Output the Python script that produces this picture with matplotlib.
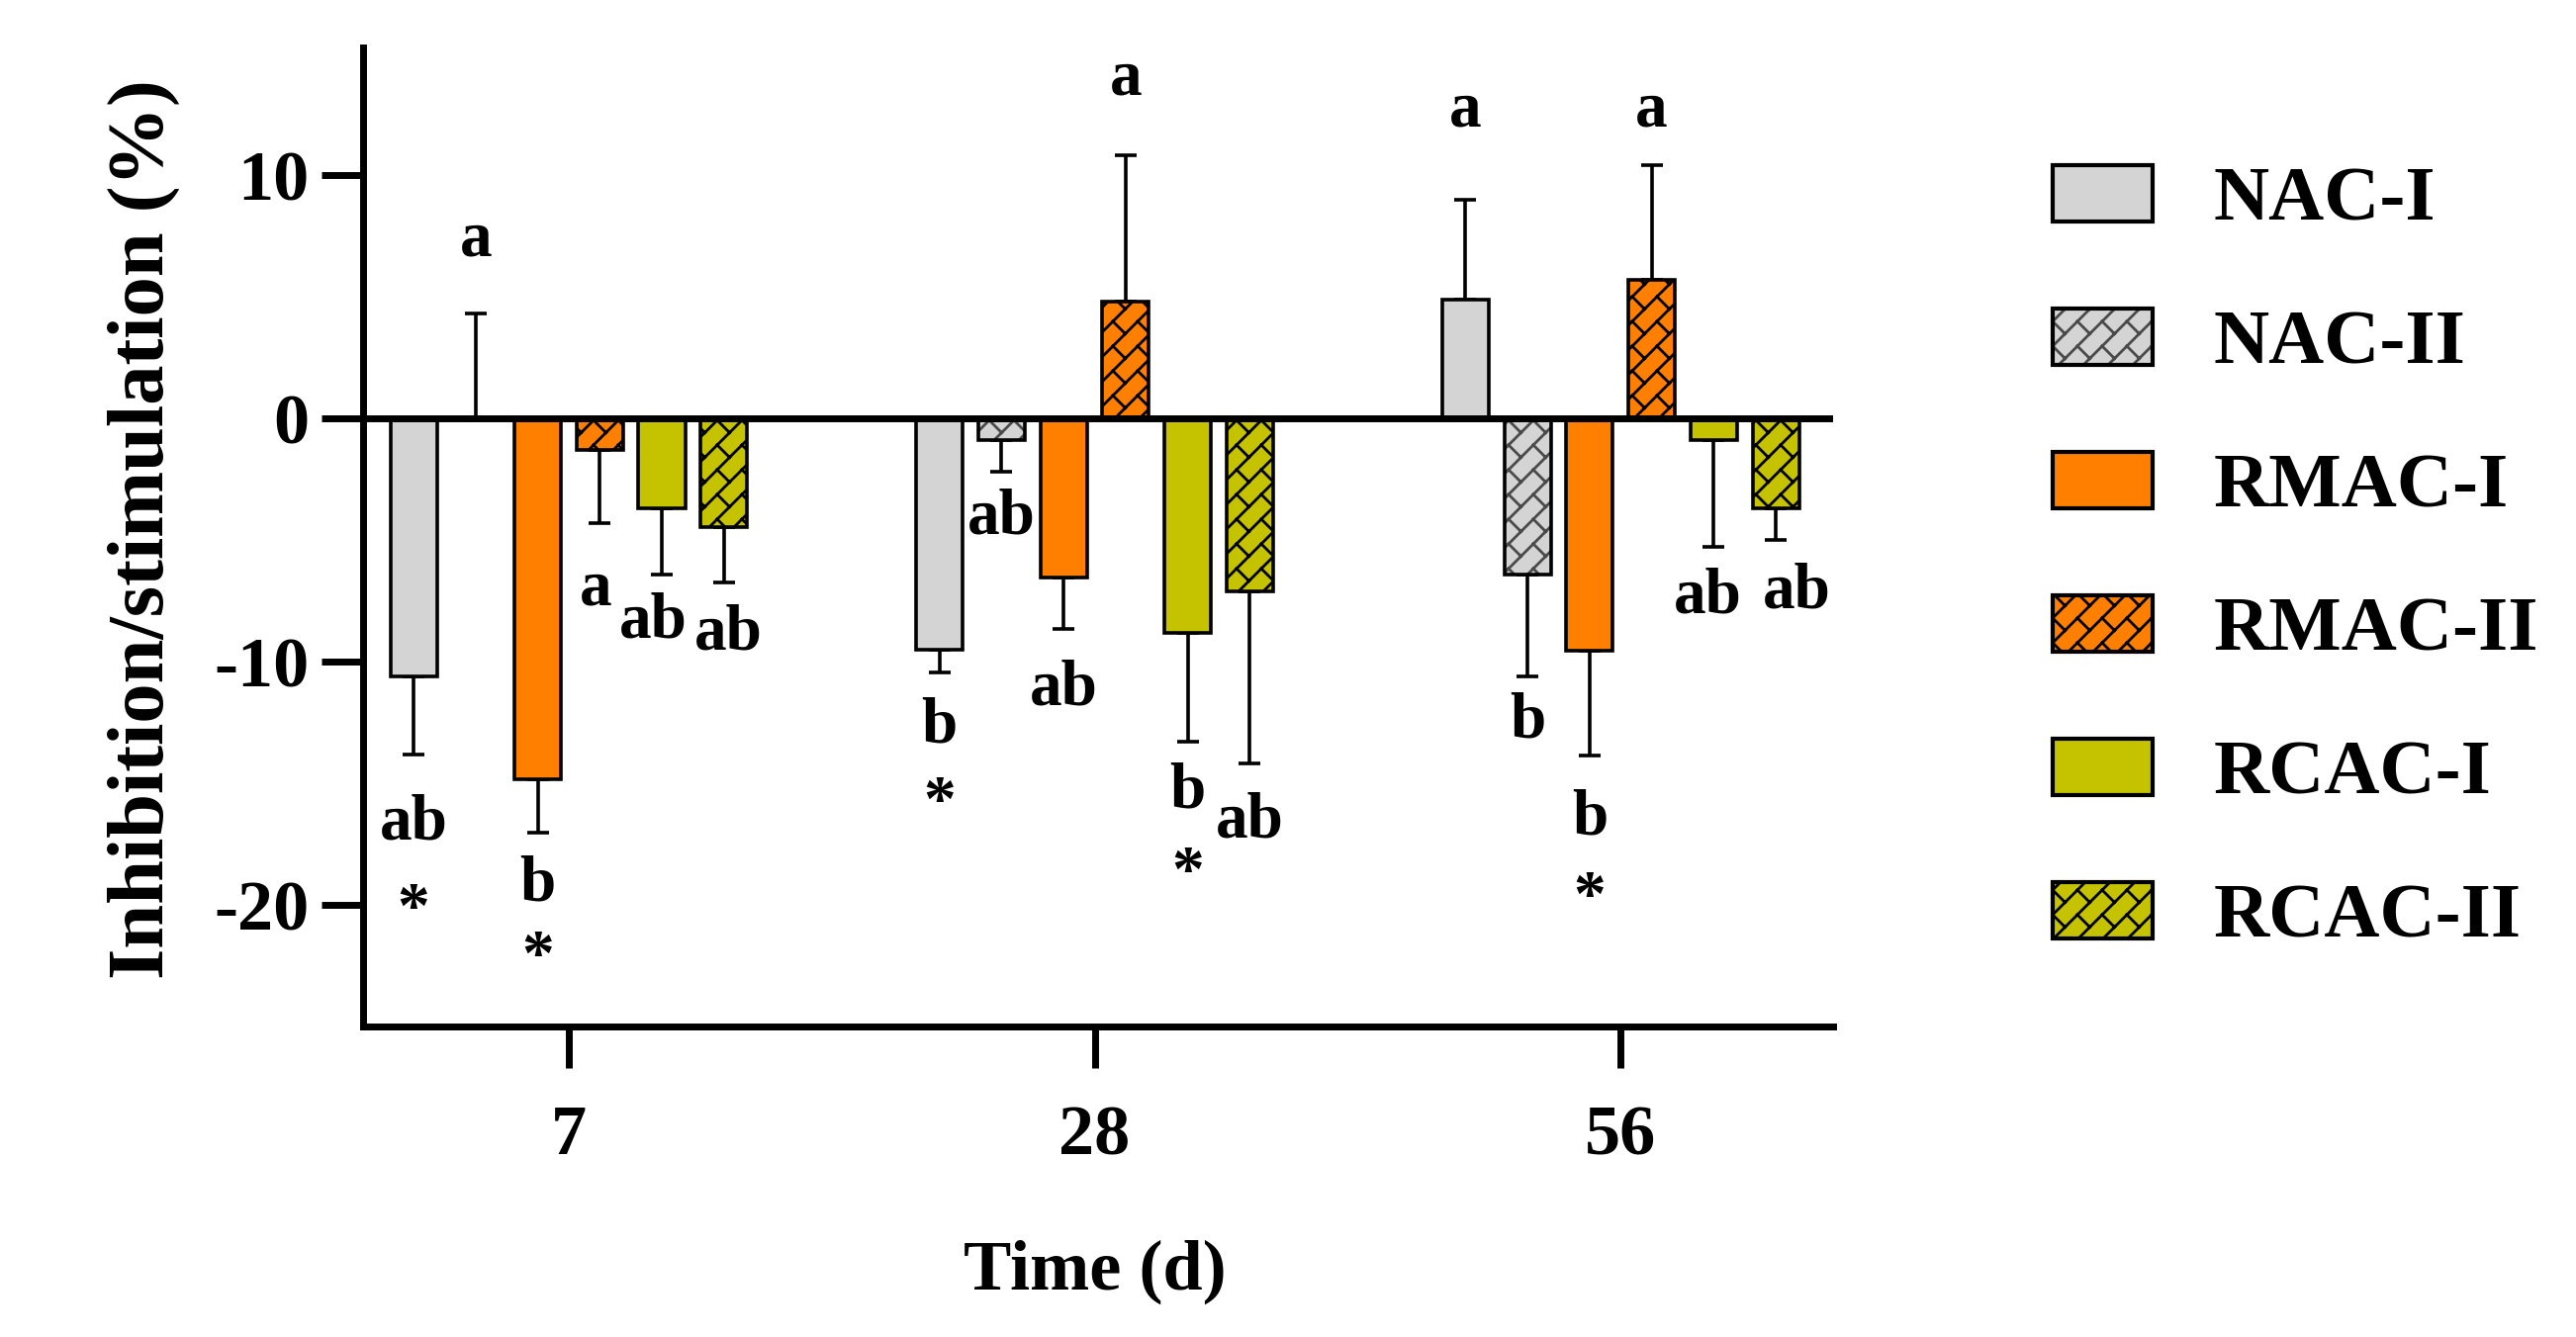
import numpy as np
import matplotlib
matplotlib.use('Agg')
import matplotlib.pyplot as plt
import matplotlib.hatch as mhatch
from matplotlib.path import Path
from matplotlib.patches import Patch

# ---------------- data ----------------
days = ['7', '28', '56']
series = ['NAC-I', 'NAC-II', 'RMAC-I', 'RMAC-II', 'RCAC-I', 'RCAC-II']

nac_i = [-10.6, -9.5, 4.9]
nac_i_err = [3.2, 0.95, 4.1]
nac_ii = [0.0, -0.9, -6.4]
nac_ii_err = [4.3, 1.3, 4.2]
rmac_i = [-14.85, -6.55, -9.55]
rmac_i_err = [2.2, 2.1, 4.3]
rmac_ii = [-1.3, 4.8, 5.7]
rmac_ii_err = [3.0, 6.0, 4.7]
rcac_i = [-3.7, -8.8, -0.9]
rcac_i_err = [2.7, 4.5, 4.4]
rcac_ii = [-4.45, -7.1, -3.7]
rcac_ii_err = [2.3, 7.1, 1.3]

values = [nac_i, nac_ii, rmac_i, rmac_ii, rcac_i, rcac_ii]
errors = [nac_i_err, nac_ii_err, rmac_i_err, rmac_ii_err, rcac_i_err, rcac_ii_err]

# significance letters (per series, per day)
letters_nac_i = ['ab', 'b', 'a']
letters_nac_ii = ['a', 'ab', 'b']
letters_rmac_i = ['b', 'ab', 'b']
letters_rmac_ii = ['a', 'a', 'a']
letters_rcac_i = ['ab', 'b', 'ab']
letters_rcac_ii = ['ab', 'ab', 'ab']
letters = [letters_nac_i, letters_nac_ii, letters_rmac_i,
           letters_rmac_ii, letters_rcac_i, letters_rcac_ii]
# asterisk flags (per series, per day)
stars_nac_i = [True, True, False]
stars_nac_ii = [False, False, False]
stars_rmac_i = [True, False, True]
stars_rmac_ii = [False, False, False]
stars_rcac_i = [False, True, False]
stars_rcac_ii = [False, False, False]
stars = [stars_nac_i, stars_nac_ii, stars_rmac_i,
         stars_rmac_ii, stars_rcac_i, stars_rcac_ii]

y_ticks = [-20, -10, 0, 10]
y_tick_labels = ['-20', '-10', '0', '10']

# ---------------- layout (text baselines in data units, x nudges) ----------------
letter_base = [[-17.3, -13.3, 12.0],
               [6.7, -4.75, -13.1],
               [-19.8, -11.77, -17.1],
               [-7.65, 13.3, 12.0],
               [-9.0, -16.0, -8.0],
               [-9.5, -17.2, -7.8]]
letter_dx = [[0, 0, 0],
             [0, 0, 0],
             [0, 0, 0],
             [-0.008, 0, 0],
             [-0.017, 0, -0.012],
             [0.009, 0, 0.04]]
star_base = [[-20.9, -16.5, None],
             [None, None, None],
             [-22.85, None, -20.4],
             [None, None, None],
             [None, -19.4, None],
             [None, None, None]]

# ---------------- styles ----------------
face_colors = ['#d4d4d4', '#d4d4d4', '#ff8000', '#ff8000', '#c5c300', '#c5c300']
hatch_colors = ['black', '#4a4a4a', 'black', 'black', 'black', 'black']
hatches = [None, 'B', None, 'B', None, 'B']

# --------- custom "brick" hatch (diagonal bricks) ---------
N_LANES = 4
BRICK_L = 0.5


def brick_segments():
    segs = []
    n = N_LANES
    for k in range(-n - 1, n + 2):
        c = k / n
        segs.append((((-1 + c) / 2, (-1 - c) / 2), ((3 + c) / 2, (3 - c) / 2)))
    for k in range(-n - 1, n + 1):
        c1, c2 = k / n, (k + 1) / n
        off = (k % 2) * BRICK_L / 2
        m0 = int(np.floor((-0.5 - off) / BRICK_L))
        m1 = int(np.ceil((2.5 - off) / BRICK_L))
        for m in range(m0, m1 + 1):
            u = off + m * BRICK_L
            segs.append((((u + c1) / 2, (u - c1) / 2), ((u + c2) / 2, (u - c2) / 2)))
    return segs


class BrickHatch(mhatch.HatchPatternBase):
    def __init__(self, hatch, density):
        if 'B' in hatch:
            self.segs = np.asarray(brick_segments(), dtype=float)
            self.num_vertices = len(self.segs) * 2
        else:
            self.segs = None
            self.num_vertices = 0

    def set_vertices_and_codes(self, vertices, codes):
        vertices[0::2] = self.segs[:, 0]
        vertices[1::2] = self.segs[:, 1]
        codes[0::2] = Path.MOVETO
        codes[1::2] = Path.LINETO


mhatch._hatch_types.append(BrickHatch)
mhatch._validate_hatch_pattern = lambda h: None

plt.rcParams['font.family'] = ['Liberation Serif', 'DejaVu Serif']
plt.rcParams['font.weight'] = 'bold'
plt.rcParams['hatch.linewidth'] = 2.0

W, H = 2604, 1352
fig = plt.figure(figsize=(W / 100, H / 100), dpi=100)
ax = fig.add_axes([367 / W, 1 - 1038 / H, (1853 - 367) / W, (1038 - 48) / H])

x = np.arange(len(days))
bar_step = 0.118
bar_w = 0.0885

handles = []
for i in range(len(series)):
    pos = x + (i - 2.5) * bar_step
    vals = values[i]
    errs = errors[i]
    ax.bar(pos, vals, width=bar_w, color=face_colors[i], edgecolor=hatch_colors[i],
           hatch=hatches[i], linewidth=0, zorder=2)
    ax.bar(pos, vals, width=bar_w, fill=False, edgecolor='black', linewidth=2.6, zorder=3)
    lo = [e if v < 0 else 0 for v, e in zip(vals, errs)]
    hi = [e if v >= 0 else 0 for v, e in zip(vals, errs)]
    ax.errorbar(pos, vals, yerr=[lo, hi], fmt='none', ecolor='black', elinewidth=2.6,
                capsize=8, capthick=2.6, zorder=1.5)
    for j in range(len(days)):
        ax.text(pos[j] + letter_dx[i][j], letter_base[i][j], letters[i][j],
                ha='center', va='baseline', fontsize=47, fontweight='bold', zorder=6)
        if stars[i][j]:
            ax.text(pos[j], star_base[i][j], '*', ha='center', va='baseline',
                    fontsize=47, fontweight='bold', zorder=6)
    h1 = Patch(facecolor=face_colors[i], edgecolor=hatch_colors[i], hatch=hatches[i], linewidth=0)
    h2 = Patch(fill=False, edgecolor='black', linewidth=3)
    handles.append((h1, h2))

ax.axhline(0, color='black', lw=5, zorder=4)

ax.set_xlim(-0.391, 2.404)
ax.set_ylim(-25, 15.25)
ax.set_xticks(x)
ax.set_xticklabels(days)
ax.set_yticks(y_ticks)
ax.set_yticklabels(y_tick_labels)

for s in ['top', 'right']:
    ax.spines[s].set_visible(False)
for s in ['left', 'bottom']:
    ax.spines[s].set_linewidth(5)
ax.tick_params(axis='both', direction='out', length=30, width=5, labelsize=52)
ax.tick_params(axis='y', pad=9)
ax.tick_params(axis='x', pad=27)

fig.text(145 / W, 1 - 535 / H, 'Inhibition/stimulation (%)', rotation=90,
         ha='center', va='center', fontsize=58, fontweight='bold')
fig.text(1107 / W, 1 - 1286 / H, 'Time (d)', ha='center', va='center',
         fontsize=52, fontweight='bold')

fig.legend(handles, series, loc='upper left', bbox_to_anchor=(2075 / W, 1 - 167 / H),
           frameon=False, prop={'size': 56, 'weight': 'bold'}, handlelength=1.30,
           handleheight=0.75, handletextpad=0.79, labelspacing=0.93, borderpad=0,
           borderaxespad=0)

fig.savefig('out.png', dpi=100)
